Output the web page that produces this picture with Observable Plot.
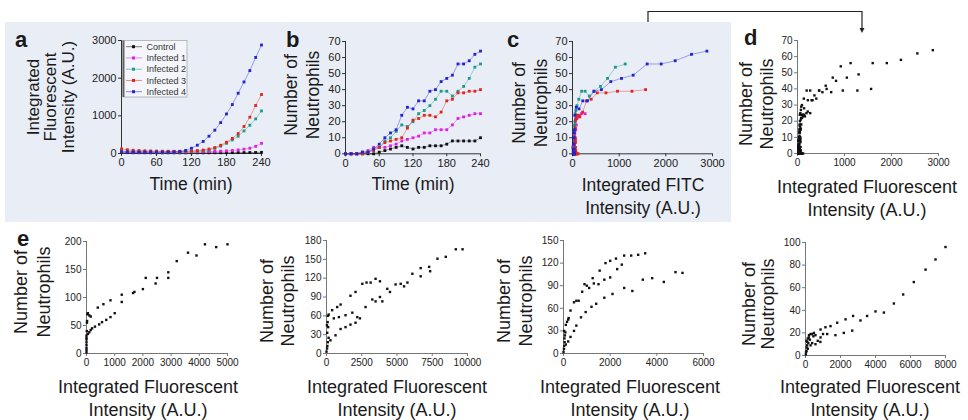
<!DOCTYPE html>
<html><head><meta charset="utf-8">
<script src="https://cdn.jsdelivr.net/npm/d3@7"></script>
<script src="https://cdn.jsdelivr.net/npm/@observablehq/plot@0.6"></script>
<style>
html,body{margin:0;padding:0;background:#fff;}
#fig{position:relative;width:968px;height:420px;overflow:hidden;font-family:"Liberation Sans",Arial,sans-serif;}
#bg{position:absolute;left:5px;top:22px;width:726px;height:200px;background:#e9edf6;}
.panel{position:absolute;}
#overlay{position:absolute;left:0;top:0;pointer-events:none;}
</style></head><body><div id="fig"><div id="bg"></div></div>
<script>
// ---------- data ----------
const seriesNames = ["Control","Infected 1","Infected 2","Infected 3","Infected 4"];
const seriesColors = ["#111111","#e021e0","#1e9a8a","#e0261c","#2323d0"];
const timeMin = [0,10,20,30,40,50,60,70,80,90,100,110,120,130,140,150,160,170,180,190,200,210,220,230,240];

const fitcControl = [25,22,20,20,18,18,18,17,17,17,17,17,18,18,18,19,20,20,21,22,23,24,25,27,30];
const fitcInf1 = [45,40,38,36,35,35,34,34,34,35,36,38,40,42,45,50,55,62,70,80,95,115,140,190,270];
const fitcInf2 = [70,60,55,50,48,46,45,45,45,45,46,48,52,60,72,95,135,195,270,360,460,600,750,920,1130];
const fitcInf3 = [120,100,85,78,72,68,65,62,60,60,60,62,68,78,92,118,158,218,300,400,530,717,964,1274,1566];
const fitcInf4 = [45,40,38,36,35,35,35,35,36,40,50,80,140,220,320,460,620,820,1050,1300,1600,1900,2200,2550,2880];

const countControl = [0,0,0,0,0,0,1,2,3,4,5,4,3,4,4,5,5,5,6,8,8,8,8,8,10];
const countInf1 = [0,0,0,1,2,4,4,4,5,6,8,9,10,11,13,13,15,15,15,18,22,23,24,25,25];
const countInf2 = [0,0,0,1,1,3,4,8,10,14,18,17,20,25,27,30,34,39,39,36,39,42,47,54,56];
const countInf3 = [0,0,0,0,1,2,4,7,8,9,10,16,21,22,24,24,23,26,33,34,38,38,39,39,40];
const countInf4 = [0,0,0,1,1,3,6,10,13,15,24,29,28,33,33,39,40,45,47,49,56,56,58,62,64];

const e1Points = [[0,2],[0,6],[0,10],[0,15],[0,20],[0,25],[0,28],[0,32],[10,40],[15,55],[20,58],[30,70],[50,72],[100,68],[150,66],
  [50,35],[100,38],[150,42],[200,45],[300,48],[450,52],[550,56],[700,60],[850,65],[1000,72],[1250,92],
  [400,82],[600,88],[850,95],[1250,105],[1650,108],[1700,110],[2000,115],[2100,135],[2450,125],[2500,135],[2900,135],[2900,145],
  [3200,165],[3600,180],[3900,175],[4200,195],[4600,190],[5000,195]];
const e2Points = [[0,3],[40,8],[60,12],[90,18],[150,25],[50,33],[120,42],[80,50],[30,45],[100,60],[160,62],
  [400,69],[760,74],[1000,78],[1700,92],[2060,98],[2540,111],[2840,113],[3130,113],[3480,119],[3790,115],
  [520,56],[880,58],[1350,61],[1830,65],[2180,58],[2770,74],[3250,86],[3480,83],[3790,90],[3960,83],[4310,103],[4500,98],
  [4900,110],[5260,111],[5500,107],[5740,113],[6090,127],[6680,123],[6680,136],[7280,138],[7350,131],[7870,151],[8460,154],[9170,166],[9650,166],
  [280,21],[640,29],[1000,39],[1350,42],[1700,46],[2060,49],[2370,56]];
const e3Points = [[0,2],[20,6],[30,10],[50,15],[40,20],[60,24],[80,28],[30,30],
  [100,38],[150,42],[200,45],[220,47],[300,57],[450,68],[550,70],[650,70],[800,82],[900,92],[1000,90],[1100,87],[1250,100],[1300,93],[1500,92],
  [1550,110],[1800,120],[2000,123],[2250,126],[2600,130],[2900,130],[3200,131],[3500,133],
  [1750,98],[2000,101],[2300,112],[2500,118],
  [100,12],[200,16],[300,22],[450,30],[550,37],[750,48],[950,55],[1200,62],[1400,66],[1750,74],[2100,79],[2600,87],[2950,83],
  [3400,98],[3800,100],[4300,95],[4800,108],[5100,107]];
const e4Points = [[8000,96],[7430,85],[6860,76],[6190,65],[5580,54],[5050,46],[4480,38],[4000,39],[3520,35],[3140,31],[2720,35],[2290,32],
  [1810,29],[1430,26],[1140,25],[860,23],[2670,22],[2190,20],[1710,18],[1240,19],[860,16],[570,18],[570,10],[480,20],[290,19],[190,16],
  [130,15],[60,13],[95,9],[60,4],[20,1],[130,6],[290,9],[380,11],[380,19],[200,18],[100,12],[450,17],[30,3],[70,7],[160,11],[250,14],
  [700,13],[1000,19],[850,12]];

const timeTicks = [0,60,120,180,240];
const fitcTicksA = [0,1000,2000,3000];
const countTicks70 = [0,10,20,30,40,50,60,70];
const e1XTicks = [0,1000,2000,3000,4000,5000], e1YTicks = [0,50,100,150,200];
const e2XTicks = [0,2500,5000,7500,10000], e2YTicks = [0,30,60,90,120,150,180];
const e3XTicks = [0,2000,4000,6000], e3YTicks = [0,30,60,90,120,150];
const e4XTicks = [0,2000,4000,6000,8000], e4YTicks = [0,20,40,60,80,100];

// ---------- build tables ----------
const fitcAll = [fitcControl,fitcInf1,fitcInf2,fitcInf3,fitcInf4];
const countAll = [countControl,countInf1,countInf2,countInf3,countInf4];
const seriesRows = seriesNames.map((name,s)=>timeMin.map((t,i)=>({series:name,t,fitc:fitcAll[s][i],n:countAll[s][i]})));
const allRows = seriesRows.flat();
const toObj = pts => pts.map(([x,y])=>({x,y}));

const fig = document.getElementById("fig");
const FONT = '"Liberation Sans", Arial, sans-serif';
const plain = d => String(d);

function panel(cfg){
  const ml=36, mr=22, mt=8, mb=20;
  const w = cfg.px[1]-cfg.px[0], h = cfg.py[0]-cfg.py[1];
  const marks = [
    Plot.ruleX([cfg.xdom[0]], {stroke: cfg.axisColor, strokeWidth: 1}),
    Plot.ruleY([cfg.ydom[0]], {stroke: cfg.axisColor, strokeWidth: 1}),
    Plot.axisX(cfg.xticks, {tickSize: 3, tickPadding: 2, fontSize: cfg.fs, stroke: cfg.axisColor, fill: "#222", label: null, tickFormat: plain}),
    Plot.axisY(cfg.yticks, {tickSize: 3, tickPadding: 2, fontSize: cfg.fs, stroke: cfg.axisColor, fill: "#222", label: null, tickFormat: plain}),
    ...cfg.marks
  ];
  const p = Plot.plot({
    width: w+ml+mr, height: h+mt+mb,
    marginLeft: ml, marginRight: mr, marginTop: mt, marginBottom: mb,
    x: {domain: cfg.xdom}, y: {domain: cfg.ydom},
    style: {background: "transparent", fontFamily: FONT, fontSize: cfg.fs+"px", color: "#222", overflow: "visible"},
    marks
  });
  const d = document.createElement("div");
  d.className = "panel";
  d.style.left = (cfg.px[0]-ml)+"px";
  d.style.top = (cfg.py[1]-mt)+"px";
  d.appendChild(p);
  fig.appendChild(d);
}

function seriesMarks(xk, yk){
  const m = [];
  seriesRows.forEach((rows,s)=>{
    m.push(Plot.line(rows, {x: xk, y: yk, stroke: seriesColors[s], strokeWidth: 0.8, strokeOpacity: 0.5}));
    m.push(Plot.dot(rows, {x: xk, y: yk, symbol: "square", r: 1.6, fill: seriesColors[s], stroke: null}));
  });
  return m;
}
const blackDots = data => Plot.dot(data, {x: "x", y: "y", symbol: "square", r: 1.35, fill: "#111", stroke: null});

// panel a
panel({px:[121,261], py:[153,40], xdom:[0,240], ydom:[0,3000], xticks: timeTicks, yticks: fitcTicksA, fs: 11, axisColor:"#333", marks: seriesMarks("t","fitc")});
// panel b
panel({px:[345,480], py:[153,40.7], xdom:[0,240], ydom:[0,70], xticks: timeTicks, yticks: countTicks70, fs: 11, axisColor:"#333", marks: seriesMarks("t","n")});
// panel c
panel({px:[572,712], py:[153,40.7], xdom:[0,3000], ydom:[0,70], xticks: fitcTicksA, yticks: countTicks70, fs: 11, axisColor:"#333", marks: seriesMarks("fitc","n")});
// panel d
panel({px:[797,938], py:[153,40], xdom:[0,3000], ydom:[0,70], xticks: fitcTicksA, yticks: countTicks70, fs: 10, axisColor:"#777",
  marks: [Plot.dot(allRows, {x:"fitc", y:"n", symbol:"square", r:1.35, fill:"#111", stroke:null})]});
// panels e
panel({px:[86,227], py:[353,241], xdom:[0,5000], ydom:[0,200], xticks: e1XTicks, yticks: e1YTicks, fs: 10, axisColor:"#777", marks:[blackDots(toObj(e1Points))]});
panel({px:[326,467], py:[353,240], xdom:[0,10000], ydom:[0,180], xticks: e2XTicks, yticks: e2YTicks, fs: 10, axisColor:"#777", marks:[blackDots(toObj(e2Points))]});
panel({px:[563,703], py:[353,240], xdom:[0,6000], ydom:[0,150], xticks: e3XTicks, yticks: e3YTicks, fs: 10, axisColor:"#777", marks:[blackDots(toObj(e3Points))]});
panel({px:[805,945], py:[355,242], xdom:[0,8000], ydom:[0,100], xticks: e4XTicks, yticks: e4YTicks, fs: 10, axisColor:"#777", marks:[blackDots(toObj(e4Points))]});

// ---------- overlay text ----------
const svg = d3.select("#fig").append("svg").attr("id","overlay").attr("width",968).attr("height",420)
  .style("font-family", FONT);
function txt(x,y,s,fs,opt={}){
  return svg.append("text").attr("x",x).attr("y",y).attr("font-size",fs)
    .attr("text-anchor",opt.anchor||"middle").attr("font-weight",opt.bold?"bold":null)
    .attr("fill",opt.fill||"#1a1a1a").text(s);
}
function ytitle(lines, baselines, cy, fs){
  lines.forEach((l,i)=>{
    svg.append("text").attr("transform",`translate(${baselines[i]},${cy}) rotate(-90)`)
      .attr("text-anchor","middle").attr("font-size",fs).attr("fill","#1a1a1a").text(l);
  });
}
// panel letters
txt(15,46.5,"a",22,{anchor:"start",bold:true});
txt(286,46.5,"b",22,{anchor:"start",bold:true});
txt(507,46.5,"c",22,{anchor:"start",bold:true});
txt(744,45,"d",22,{anchor:"start",bold:true});
txt(17,246,"e",22,{anchor:"start",bold:true});

// axis titles
ytitle(["Integrated","Fluorescent","Intensity (A.U.)"],[38.5,56,73.5],97,17);
txt(191,190,"Time (min)",17.5);
ytitle(["Number of","Neutrophils"],[296.7,318.5],95,17.5);
txt(413,190,"Time (min)",17.5);
ytitle(["Number of","Neutrophils"],[524.8,547],103,17.5);
txt(643,191,"Integrated FITC",17.5);
txt(643,214,"Intensity (A.U.)",17.5);
ytitle(["Number of","Neutrophils"],[751.5,773],104,18);
txt(867,193,"Integrated Fluorescent",18);
txt(867,216,"Intensity (A.U.)",18);

const eTitleX = [148,397,630,870];
const eYBase = [[26.5,49.5],[273,293.5],[509.5,531.5],[754.5,774]];
const eYc = [292,301,301,304];
eTitleX.forEach((cx,i)=>{
  txt(cx,393,"Integrated Fluorescent",18);
  txt(cx,416,"Intensity (A.U.)",18);
  ytitle(["Number of","Neutrophils"],eYBase[i],eYc[i],18);
});

// legend in panel a
const lg = svg.append("g");
lg.append("rect").attr("x",123).attr("y",40.5).attr("width",64).attr("height",56.5)
  .attr("fill","#f4f6fb").attr("stroke","#aaa").attr("stroke-width",0.8);
lg.append("line").attr("x1",123.5).attr("x2",123.5).attr("y1",40.5).attr("y2",97).attr("stroke","#666").attr("stroke-width",2);
seriesNames.forEach((name,i)=>{
  const y = 46.7 + i*11.25;
  lg.append("line").attr("x1",126).attr("x2",142).attr("y1",y).attr("y2",y)
    .attr("stroke",seriesColors[i]).attr("stroke-width",0.9).attr("stroke-opacity",0.6);
  lg.append("rect").attr("x",132).attr("y",y-1.5).attr("width",3).attr("height",3).attr("fill",seriesColors[i]);
  lg.append("text").attr("x",146.5).attr("y",y+3.2).attr("font-size",9).attr("fill","#333").text(name);
});

// bracket arrow
svg.append("path").attr("d","M648,22 V11.5 H862 V29").attr("fill","none").attr("stroke","#222").attr("stroke-width",1.2);
svg.append("path").attr("d","M859.5,28 L862,33 L864.5,28 Z").attr("fill","#222");
</script></body></html>
